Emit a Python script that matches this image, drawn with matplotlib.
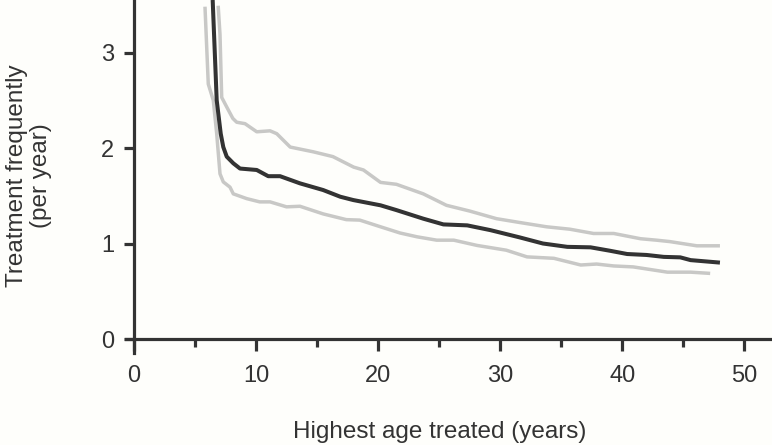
import matplotlib
matplotlib.use("Agg")
import matplotlib.pyplot as plt
from matplotlib.figure import Figure
from matplotlib.ticker import MultipleLocator

# Mean treatment frequency (dark line)
mean_age = [6.45, 6.78, 7.11, 7.32, 7.60, 8.14, 8.69, 10.06, 11.0, 11.97, 13.6,
            15.5, 16.9, 17.97, 20.2, 21.5, 23.7, 25.35, 27.3, 29.2, 31.6, 33.5,
            35.5, 37.4, 39.0, 40.4, 42.0, 43.4, 44.75, 45.6, 48.0]
mean_freq = [3.55, 2.50, 2.15, 2.01, 1.91, 1.84, 1.785, 1.77, 1.705, 1.705, 1.63,
             1.56, 1.49, 1.455, 1.40, 1.35, 1.26, 1.20, 1.19, 1.14, 1.064, 1.00,
             0.965, 0.96, 0.924, 0.89, 0.88, 0.86, 0.855, 0.826, 0.80]

# Upper bound (light line)
upper_age = [6.9, 7.05, 7.19, 7.6, 8.1, 8.42, 9.1, 10.06, 11.15, 11.7, 12.8, 14.7,
             16.3, 18.0, 18.8, 20.2, 21.5, 23.7, 25.6, 27.5, 29.7, 31.6, 33.8,
             35.7, 37.65, 39.3, 41.5, 42.8, 43.9, 46.1, 48.0]
upper_freq = [3.49, 3.19, 2.53, 2.43, 2.31, 2.27, 2.255, 2.17, 2.18, 2.15, 2.01, 1.96,
              1.91, 1.80, 1.77, 1.64, 1.62, 1.52, 1.40, 1.34, 1.26, 1.22, 1.175,
              1.15, 1.105, 1.105, 1.05, 1.035, 1.02, 0.976, 0.976]

# Lower bound (light line)
lower_age = [5.82, 6.09, 6.5, 6.78, 7.05, 7.32, 7.87, 8.14, 9.24, 10.3, 11.15, 12.5,
             13.6, 15.5, 17.4, 18.5, 20.2, 21.8, 23.2, 24.8, 26.2, 28.1, 30.5,
             32.2, 34.4, 36.6, 37.9, 39.3, 40.9, 43.7, 45.6, 47.2]
lower_freq = [3.48, 2.67, 2.50, 2.15, 1.73, 1.645, 1.59, 1.52, 1.47, 1.436, 1.436, 1.384,
              1.39, 1.31, 1.25, 1.245, 1.175, 1.11, 1.07, 1.035, 1.035, 0.98, 0.93,
              0.86, 0.845, 0.775, 0.785, 0.765, 0.755, 0.70, 0.70, 0.687]

x_ticks = [0, 10, 20, 30, 40, 50]
y_ticks = [0, 1, 2, 3]

DARK = "#333333"
LIGHT = "#c8c8c6"
BACKGROUND = "#fefefb"
FONT = "Liberation Sans"


def _plot_frequency() -> Figure:
    """
    Draw treatment frequency against highest age treated.

    Returns:
        The generated Matplotlib figure.
    """
    figure = plt.figure(figsize=(7.72, 4.45), dpi=100, facecolor=BACKGROUND)
    axis = figure.add_axes([0.1632, 0.206, 0.8342, 0.794])
    axis.set_facecolor(BACKGROUND)

    line_style = dict(solid_capstyle="butt", solid_joinstyle="round")
    axis.plot(upper_age, upper_freq, color=LIGHT, lw=2.5, **line_style)
    axis.plot(lower_age, lower_freq, color=LIGHT, lw=2.5, **line_style)
    axis.plot(mean_age, mean_freq, color=DARK, lw=2.9, **line_style)

    axis.set_xlim(-0.65, 52.1)
    axis.set_ylim(-0.15, 3.55)

    for side in ("top", "right"):
        axis.spines[side].set_visible(False)
    for side in ("left", "bottom"):
        axis.spines[side].set_position(("data", 0))
        axis.spines[side].set_linewidth(2.3)
        axis.spines[side].set_color(DARK)

    axis.set_xticks(x_ticks)
    axis.set_yticks(y_ticks)
    axis.xaxis.set_minor_locator(MultipleLocator(5))
    axis.tick_params(axis="x", which="major", direction="out", length=8.5,
                     width=2.3, color=DARK, pad=10, labelsize=17, labelcolor=DARK)
    axis.tick_params(axis="x", which="minor", direction="out", length=6,
                     width=2.3, color=DARK)
    axis.tick_params(axis="y", direction="out", length=7, width=2.3,
                     color=DARK, pad=7, labelsize=17, labelcolor=DARK)
    for label in axis.get_xticklabels() + axis.get_yticklabels():
        label.set_fontfamily(FONT)

    figure.text(440 / 772, 1 - 432 / 445, "Highest age treated (years)",
                ha="center", va="center", fontsize=17.5, color=DARK, family=FONT)
    figure.text(29 / 772, 1 - 176 / 445, "Treatment frequently\n(per year)",
                ha="center", va="center", rotation=90, fontsize=17.5,
                color=DARK, family=FONT, linespacing=1.1)

    return figure


if __name__ == "__main__":
    fig = _plot_frequency()
    fig.savefig("out.png", dpi=100, facecolor=BACKGROUND)
    plt.close(fig)
